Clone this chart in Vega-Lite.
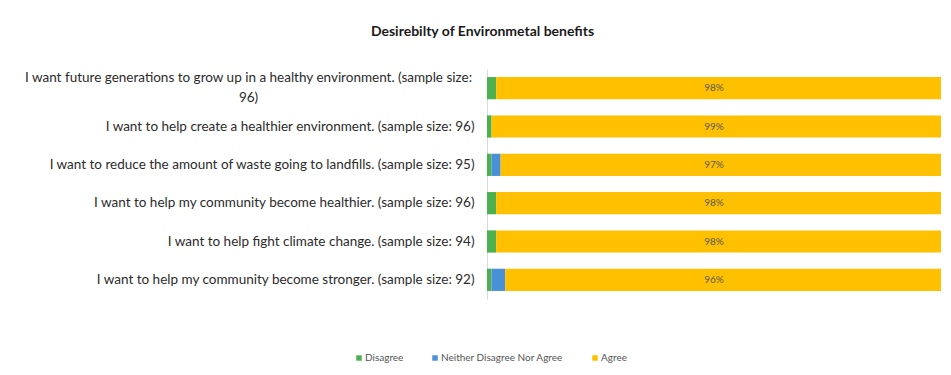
{
  "$schema": "https://vega.github.io/schema/vega-lite/v6.json",
  "width": 454,
  "height": 230,
  "padding": {"left": 24, "top": 25, "right": 10, "bottom": 10},
  "background": "white",
  "title": {"text": "Desirebilty of Environmetal benefits", "font": "Lato", "fontSize": 14, "fontWeight": "bold", "color": "#1a1a1a", "offset": 30, "frame": "bounds"},
  "config": {"view": {"stroke": null}, "font": "Lato"},
  "data": {"values": [
    {"order": 1, "question": "I want future generations to grow up in a healthy environment. (sample size:|96)", "response": "Disagree", "value": 0.02},
    {"order": 1, "question": "I want future generations to grow up in a healthy environment. (sample size:|96)", "response": "Neither Disagree Nor Agree", "value": 0.0},
    {"order": 1, "question": "I want future generations to grow up in a healthy environment. (sample size:|96)", "response": "Agree", "value": 0.98},
    {"order": 2, "question": "I want to help create a healthier environment. (sample size: 96)", "response": "Disagree", "value": 0.01},
    {"order": 2, "question": "I want to help create a healthier environment. (sample size: 96)", "response": "Neither Disagree Nor Agree", "value": 0.0},
    {"order": 2, "question": "I want to help create a healthier environment. (sample size: 96)", "response": "Agree", "value": 0.99},
    {"order": 3, "question": "I want to reduce the amount of waste going to landfills. (sample size: 95)", "response": "Disagree", "value": 0.01},
    {"order": 3, "question": "I want to reduce the amount of waste going to landfills. (sample size: 95)", "response": "Neither Disagree Nor Agree", "value": 0.02},
    {"order": 3, "question": "I want to reduce the amount of waste going to landfills. (sample size: 95)", "response": "Agree", "value": 0.97},
    {"order": 4, "question": "I want to help my community become healthier. (sample size: 96)", "response": "Disagree", "value": 0.02},
    {"order": 4, "question": "I want to help my community become healthier. (sample size: 96)", "response": "Neither Disagree Nor Agree", "value": 0.0},
    {"order": 4, "question": "I want to help my community become healthier. (sample size: 96)", "response": "Agree", "value": 0.98},
    {"order": 5, "question": "I want to help fight climate change. (sample size: 94)", "response": "Disagree", "value": 0.02},
    {"order": 5, "question": "I want to help fight climate change. (sample size: 94)", "response": "Neither Disagree Nor Agree", "value": 0.0},
    {"order": 5, "question": "I want to help fight climate change. (sample size: 94)", "response": "Agree", "value": 0.98},
    {"order": 6, "question": "I want to help my community become stronger. (sample size: 92)", "response": "Disagree", "value": 0.01},
    {"order": 6, "question": "I want to help my community become stronger. (sample size: 92)", "response": "Neither Disagree Nor Agree", "value": 0.03},
    {"order": 6, "question": "I want to help my community become stronger. (sample size: 92)", "response": "Agree", "value": 0.96}
  ]},
  "encoding": {
    "y": {
      "field": "question", "type": "nominal", "sort": {"field": "order", "op": "min"},
      "scale": {"paddingInner": 0.42, "paddingOuter": 0.21},
      "axis": {
        "title": null, "ticks": false, "domainColor": "#d9d9d9", "domainWidth": 1,
        "labelFont": "Lato", "labelFontSize": 13.5, "labelColor": "#2b2b2b", "labelLimit": 700,
        "labelExpr": "split(datum.label, '|')",
        "labelAlign": {"condition": {"test": "indexof(datum.value, '|') >= 0", "value": "center"}, "value": "right"},
        "labelPadding": {"condition": {"test": "indexof(datum.value, '|') >= 0", "value": 239}, "value": 13},
        "labelOffset": {"condition": {"test": "indexof(datum.value, '|') >= 0", "value": -10}, "value": 0},
        "labelLineHeight": 20
      }
    }
  },
  "layer": [
    {
      "mark": {"type": "bar"},
      "encoding": {
        "x": {"field": "value", "type": "quantitative", "stack": "zero", "scale": {"domain": [0, 1]}, "axis": null},
        "color": {
          "field": "response", "type": "nominal",
          "sort": ["Disagree", "Neither Disagree Nor Agree", "Agree"],
          "scale": {"domain": ["Disagree", "Neither Disagree Nor Agree", "Agree"], "range": ["#4caf50", "#4a90d9", "#ffc000"]},
          "legend": {"title": null, "orient": "none", "legendX": -133, "legendY": 284, "direction": "horizontal", "symbolType": "square", "symbolSize": 30, "labelFont": "Lato", "labelFontSize": 10, "labelColor": "#555555", "columnPadding": 26, "labelOffset": 1}
        },
        "order": {"field": "order_dummy"}
      }
    },
    {
      "transform": [{"filter": "datum.response == 'Agree'"}],
      "mark": {"type": "text", "fontSize": 10, "color": "#595959"},
      "encoding": {
        "x": {"datum": 0.5, "type": "quantitative"},
        "text": {"field": "value", "type": "quantitative", "format": ".0%"}
      }
    }
  ]
}
